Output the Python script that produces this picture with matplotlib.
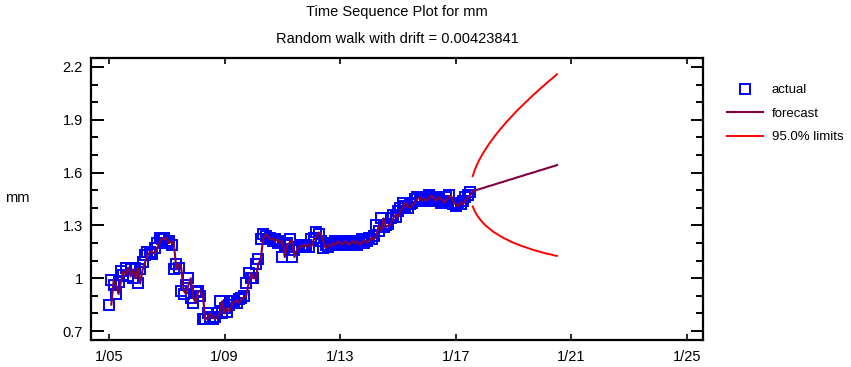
import numpy as np
import matplotlib
matplotlib.use("Agg")
import matplotlib.pyplot as plt
from matplotlib.lines import Line2D

# === Data (monthly, 1/2005 - 7/2017) ===
start_year = 2005
actual = [
    0.85, 0.99, 0.96, 0.91, 0.98, 1.04, 1.02, 1.06, 1.01, 1.05, 1.00, 1.06,   # 2005
    0.97, 1.05, 1.09, 1.13, 1.15, 1.15, 1.14, 1.17, 1.20, 1.23, 1.22, 1.23,   # 2006
    1.20, 1.21, 1.19, 1.05, 1.08, 1.06, 0.93, 0.91, 0.96, 1.00, 0.89, 0.86,   # 2007
    0.92, 0.93, 0.90, 0.77, 0.77, 0.80, 0.78, 0.77, 0.78, 0.80, 0.87, 0.80,   # 2008
    0.83, 0.81, 0.85, 0.87, 0.87, 0.86, 0.88, 0.89, 0.90, 0.97, 1.03, 1.00,   # 2009
    1.00, 1.08, 1.11, 1.22, 1.25, 1.24, 1.22, 1.23, 1.21, 1.22, 1.20, 1.21,   # 2010
    1.12, 1.19, 1.20, 1.22, 1.12, 1.16, 1.18, 1.18, 1.19, 1.18, 1.19, 1.18,   # 2011
    1.22, 1.23, 1.26, 1.25, 1.21, 1.17, 1.19, 1.18, 1.20, 1.19, 1.21, 1.20,   # 2012
    1.19, 1.21, 1.20, 1.19, 1.21, 1.20, 1.21, 1.19, 1.20, 1.22, 1.20, 1.21,   # 2013
    1.23, 1.22, 1.24, 1.30, 1.27, 1.34, 1.29, 1.30, 1.31, 1.34, 1.36, 1.35,   # 2014
    1.38, 1.40, 1.43, 1.41, 1.40, 1.42, 1.43, 1.45, 1.46, 1.44, 1.45, 1.44,   # 2015
    1.46, 1.47, 1.45, 1.44, 1.46, 1.45, 1.43, 1.44, 1.46, 1.47, 1.43, 1.42,   # 2016
    1.41, 1.43, 1.42, 1.44, 1.46, 1.47, 1.49,                                 # 2017
]

# 36-month forecast and 95% limits (8/2017 - 7/2020)
forecast = [
    1.494, 1.498, 1.503, 1.507, 1.511, 1.515, 1.520, 1.524, 1.528, 1.532, 1.537, 1.541,
    1.545, 1.549, 1.554, 1.558, 1.562, 1.566, 1.571, 1.575, 1.579, 1.583, 1.588, 1.592,
    1.596, 1.600, 1.604, 1.609, 1.613, 1.617, 1.621, 1.626, 1.630, 1.634, 1.638, 1.643,
]
upper = [
    1.580, 1.620, 1.652, 1.679, 1.703, 1.726, 1.747, 1.767, 1.786, 1.804, 1.822, 1.839,
    1.855, 1.871, 1.887, 1.902, 1.917, 1.931, 1.946, 1.960, 1.973, 1.986, 2.000, 2.013,
    2.026, 2.039, 2.051, 2.064, 2.076, 2.088, 2.100, 2.112, 2.124, 2.135, 2.147, 2.159,
]
lower = [
    1.408, 1.376, 1.354, 1.335, 1.319, 1.304, 1.292, 1.281, 1.270, 1.260, 1.252, 1.243,
    1.235, 1.227, 1.221, 1.214, 1.207, 1.201, 1.196, 1.190, 1.185, 1.180, 1.176, 1.171,
    1.166, 1.162, 1.157, 1.154, 1.150, 1.146, 1.142, 1.139, 1.136, 1.133, 1.129, 1.127,
]

x_ticks = [2005, 2009, 2013, 2017, 2021, 2025]
x_labels = ["1/05", "1/09", "1/13", "1/17", "1/21", "1/25"]
y_ticks = [0.7, 1.0, 1.3, 1.6, 1.9, 2.2]
y_labels = ["0.7", "1", "1.3", "1.6", "1.9", "2.2"]

title = "Time Sequence Plot for mm"
subtitle = "Random walk with drift = 0.00423841"

# === Time axis (decimal years) ===
n = len(actual)
t_hist = start_year + np.arange(n) / 12.0
t_fut = start_year + np.arange(n, n + len(forecast)) / 12.0

# one-step forecast over history = previous month's actual, then the future forecast
t_fc = np.concatenate([t_hist[1:], t_fut])
v_fc = np.concatenate([actual[:-1], forecast])

plt.rcParams["font.family"] = ["Liberation Sans", "DejaVu Sans"]

fig = plt.figure(figsize=(8.51, 3.67), dpi=100)
ax = fig.add_axes([91 / 851, 1 - 340 / 367, 612 / 851, 282 / 367])

ax.plot(t_hist, actual, linestyle="none", marker="s", markersize=6.5,
        markerfacecolor="none", markeredgecolor="#0000ff", markeredgewidth=1.4)
ax.plot(t_fc, v_fc, color="#800040", linewidth=1.5)
ax.plot(t_fut, upper, color="#ff0000", linewidth=1.4)
ax.plot(t_fut, lower, color="#ff0000", linewidth=1.4)

ax.set_xlim(2004.38, 2025.55)
ax.set_ylim(0.649, 2.251)
ax.set_xticks(x_ticks)
ax.set_xticklabels(x_labels)
ax.set_yticks(y_ticks)
ax.set_yticklabels(y_labels)
ax.set_yticks(np.arange(0.7, 2.25, 0.1), minor=True)

ax.tick_params(axis="y", which="major", direction="in", length=9, width=1.4,
               left=True, right=True, labelsize=10.5, pad=6)
ax.tick_params(axis="y", which="minor", direction="in", length=5, width=1.4,
               left=True, right=True)
ax.tick_params(axis="x", which="major", direction="in", length=4.5, width=1.2,
               bottom=True, top=True, labelsize=10.5, pad=7)
for sp in ax.spines.values():
    sp.set_linewidth(1.6)

fig.text(397 / 851, 1 - 12 / 367, title, ha="center", va="center", fontsize=10.5)
fig.text(397 / 851, 1 - 39 / 367, subtitle, ha="center", va="center", fontsize=10.5)
fig.text(17 / 851, 1 - 198 / 367, "mm", ha="center", va="center", fontsize=10.5)

handles = [
    Line2D([], [], linestyle="none", marker="s", markersize=6.5,
           markerfacecolor="none", markeredgecolor="#0000ff", markeredgewidth=1.4),
    Line2D([], [], color="#800040", linewidth=1.5),
    Line2D([], [], color="#ff0000", linewidth=1.4),
]
fig.legend(handles, ["actual", "forecast", "95.0% limits"],
           loc="upper left", bbox_to_anchor=(727 / 851, 1 - 84 / 367),
           frameon=False, fontsize=9.5,
           handlelength=2.7, handletextpad=0.7, labelspacing=0.85,
           borderaxespad=0, borderpad=0)

fig.savefig("out.png", dpi=100)
plt.close(fig)
